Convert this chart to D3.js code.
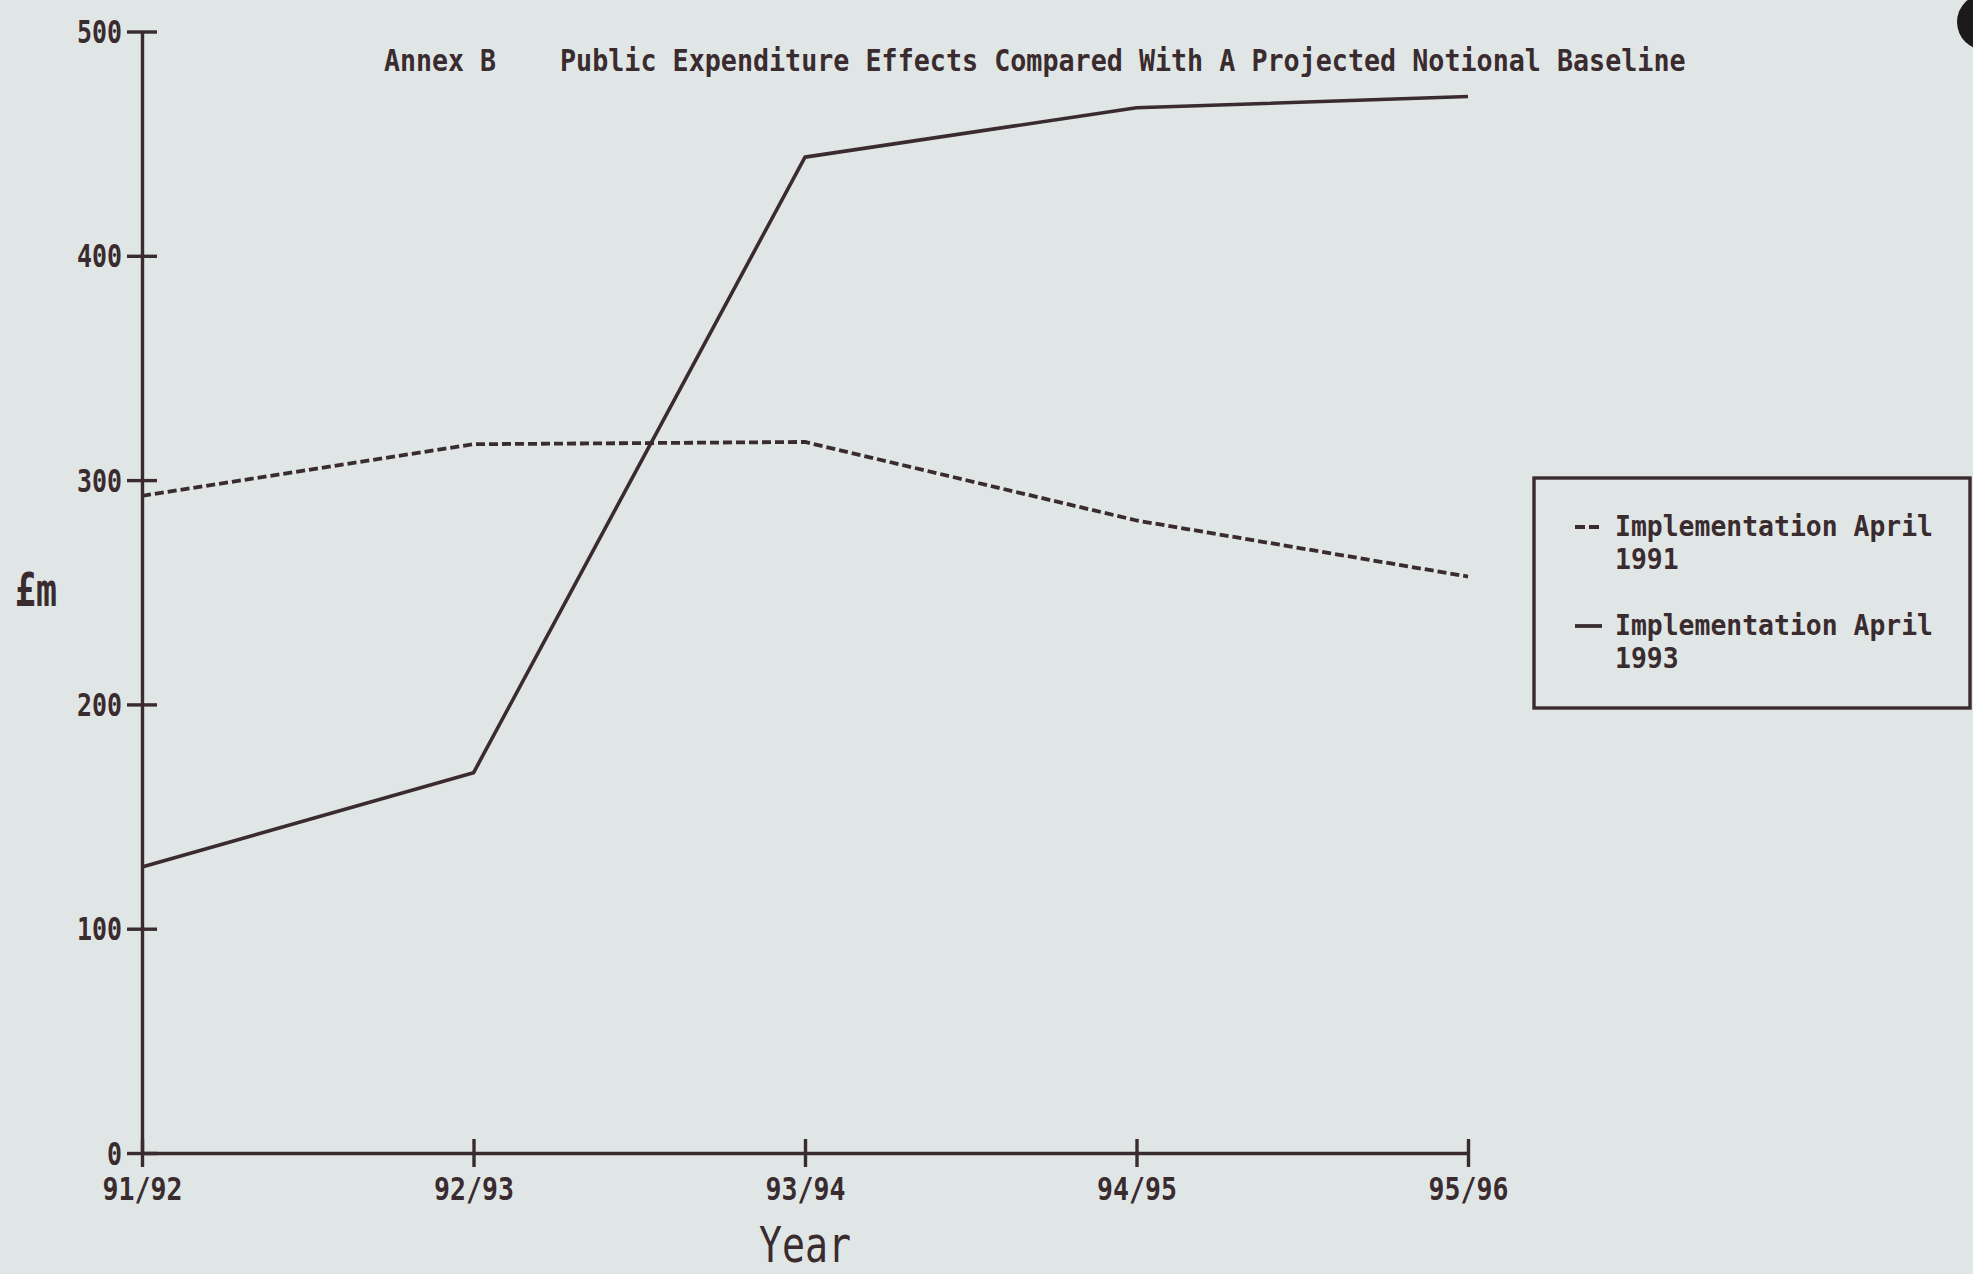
<!DOCTYPE html>
<html>
<head>
<meta charset="utf-8">
<script src="https://cdn.jsdelivr.net/npm/d3@7"></script>
<style>
    html, body { margin: 0; padding: 0; background: #e0e6e5; }
    svg { display: block; }
    text { font-family: 'DejaVu Sans Mono', monospace; fill: #3a2b2f; }
</style>
</head>
<body>
<div class="line-chart"></div>
<script>
'use strict'

// Data (£m).
const years = ['91/92', '92/93', '93/94', '94/95', '95/96'];
const april1991 = [293, 316, 317, 282, 257];
const april1993 = [127.5, 169.5, 444, 466, 471];
const yTicks = [0, 100, 200, 300, 400, 500];
const legendLabels = [['Implementation April', '1991'], ['Implementation April', '1993']];

// Dimensions and Constants
let width = 1973,
    height = 1274,
    ink = '#3a2b2f',
    charW = 16;

let svg = d3.select('.line-chart')
    .append('svg')
    .attr('width', width)
    .attr('height', height);

// Scales.
let x = d3.scalePoint()
    .domain(years)
    .range([142, 1468]);

let y = d3.scaleLinear()
    .domain([0, 500])
    .range([1153, 31.5]);

// Y axis, ticks cross the axis line on both sides.
let yAxis = svg.append('g')
    .attr('transform', `translate(${x(years[0])}, 0)`)
    .call(d3.axisLeft(y).tickValues(yTicks).tickSize(15).tickSizeOuter(0).tickPadding(5));

yAxis.selectAll('.tick line').attr('x1', 15);
yAxis.selectAll('.tick text')
    .attr('dy', 11)
    .attr('textLength', d => String(d).length * 15)
    .attr('lengthAdjust', 'spacingAndGlyphs');

// X axis.
let xAxis = svg.append('g')
    .attr('transform', `translate(0, ${y(0)})`)
    .call(d3.axisBottom(x).tickSize(14).tickSizeOuter(0));

xAxis.selectAll('.tick line').attr('y1', -14);
xAxis.selectAll('.tick text')
    .attr('y', 47)
    .attr('dy', 0)
    .attr('textLength', d => d.length * charW)
    .attr('lengthAdjust', 'spacingAndGlyphs');

// Shared axis styling.
svg.selectAll('.domain, .tick line')
    .attr('stroke', ink)
    .attr('stroke-width', 3.4);

svg.selectAll('.tick text')
    .attr('fill', ink)
    .style('font-size', '32px')
    .style('font-weight', 'bold')
    .style('font-family', "'DejaVu Sans Mono', monospace");

// Lines.
let line = d3.line()
    .x((d, i) => x(years[i]))
    .y(d => y(d));

svg.append('path')
    .datum(april1991)
    .attr('d', line)
    .attr('fill', 'none')
    .attr('stroke', ink)
    .attr('stroke-width', 3.8)
    .attr('stroke-dasharray', '9,4');

svg.append('path')
    .datum(april1993)
    .attr('d', line)
    .attr('fill', 'none')
    .attr('stroke', ink)
    .attr('stroke-width', 3.6)
    .attr('stroke-linejoin', 'round');

// Title.
svg.append('text')
    .attr('x', 384)
    .attr('y', 71)
    .attr('textLength', 7 * charW)
    .attr('lengthAdjust', 'spacingAndGlyphs')
    .style('font-size', '31px')
    .style('font-weight', 'bold')
    .text('Annex B');

let titleMain = 'Public Expenditure Effects Compared With A Projected Notional Baseline';
svg.append('text')
    .attr('x', 560)
    .attr('y', 71)
    .attr('textLength', titleMain.length * 16.08)
    .attr('lengthAdjust', 'spacingAndGlyphs')
    .style('font-size', '31px')
    .style('font-weight', 'bold')
    .text(titleMain);

// Axis titles.
svg.append('text')
    .attr('x', 15)
    .attr('y', 606)
    .attr('textLength', 42)
    .attr('lengthAdjust', 'spacingAndGlyphs')
    .style('font-size', '46px')
    .style('font-weight', 'bold')
    .text('£m');

svg.append('text')
    .attr('x', x('93/94'))
    .attr('y', 1262)
    .attr('text-anchor', 'middle')
    .attr('textLength', 92)
    .attr('lengthAdjust', 'spacingAndGlyphs')
    .style('font-size', '49px')
    .text('Year');

// Legend.
let legend = svg.append('g').attr('class', 'legend');

legend.append('rect')
    .attr('x', 1534)
    .attr('y', 478)
    .attr('width', 436)
    .attr('height', 230)
    .attr('fill', 'none')
    .attr('stroke', ink)
    .attr('stroke-width', 3.4);

let legendItems = legend.selectAll('g.item')
    .data(legendLabels)
    .join('g')
    .attr('class', 'item')
    .attr('transform', (d, i) => `translate(0, ${536 + i * 99})`);

legendItems.append('line')
    .attr('x1', 1575)
    .attr('x2', 1602)
    .attr('y1', -9)
    .attr('y2', -9)
    .attr('stroke', ink)
    .attr('stroke-width', 3.8)
    .attr('stroke-dasharray', (d, i) => i === 0 ? '10,4' : null);

legendItems.selectAll('text')
    .data(d => d)
    .join('text')
    .attr('x', 1615)
    .attr('y', (d, i) => i * 33)
    .attr('textLength', d => d.length * 15.9)
    .attr('lengthAdjust', 'spacingAndGlyphs')
    .style('font-size', '28px')
    .style('font-weight', 'bold')
    .text(d => d);

// Punch hole in the top right corner of the scan.
svg.append('circle')
    .attr('cx', 1985)
    .attr('cy', 22)
    .attr('r', 28)
    .attr('fill', '#1c1a1b');
</script>
</body>
</html>
